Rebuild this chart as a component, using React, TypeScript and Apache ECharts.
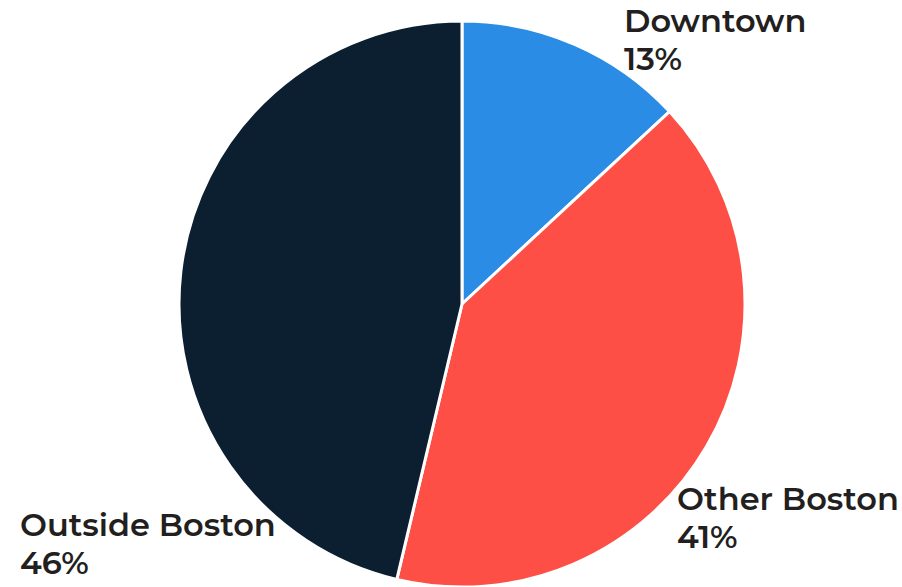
import React, { useEffect, useRef } from "react";
import * as echarts from "echarts";

const categories = ["Downtown", "Other Boston", "Outside Boston"];
const values = [13.1, 40.6, 46.3];
const colors = ["#2a8ce4", "#fd4f45", "#0b1f30"];

const labelPos = [
  { x: 624, y: 1 },
  { x: 677, y: 479 },
  { x: 20, y: 505 },
];

export default function App() {
  const ref = useRef<HTMLDivElement>(null);
  useEffect(() => {
    if (!ref.current) return;
    const chart = echarts.init(ref.current, null, { renderer: "svg" });
    chart.setOption({
      animation: false,
      series: [
        {
          type: "pie",
          center: [462, 304],
          radius: 283,
          startAngle: 90,
          clockwise: true,
          avoidLabelOverlap: false,
          itemStyle: { borderColor: "#ffffff", borderWidth: 3 },
          label: {
            show: true,
            position: "outside",
            formatter: (p: any) => `${p.name}\n${Math.round(p.percent)}%`,
            fontFamily: "Montserrat, 'Open Sans', sans-serif",
            fontWeight: 600,
            fontSize: 32,
            lineHeight: 38,
            color: "#231f20",
          },
          labelLine: { show: false },
          labelLayout: (params: any) => {
            const p = labelPos[params.dataIndex];
            return { x: p.x, y: p.y, align: "left", verticalAlign: "top", hideOverlap: false };
          },
          data: categories.map((name, i) => ({
            name,
            value: values[i],
            itemStyle: { color: colors[i] },
          })),
        },
      ],
    });
    return () => chart.dispose();
  }, []);
  return <div ref={ref} style={{ width: 902, height: 587, position: "absolute", left: 0, top: 0 }} />;
}
